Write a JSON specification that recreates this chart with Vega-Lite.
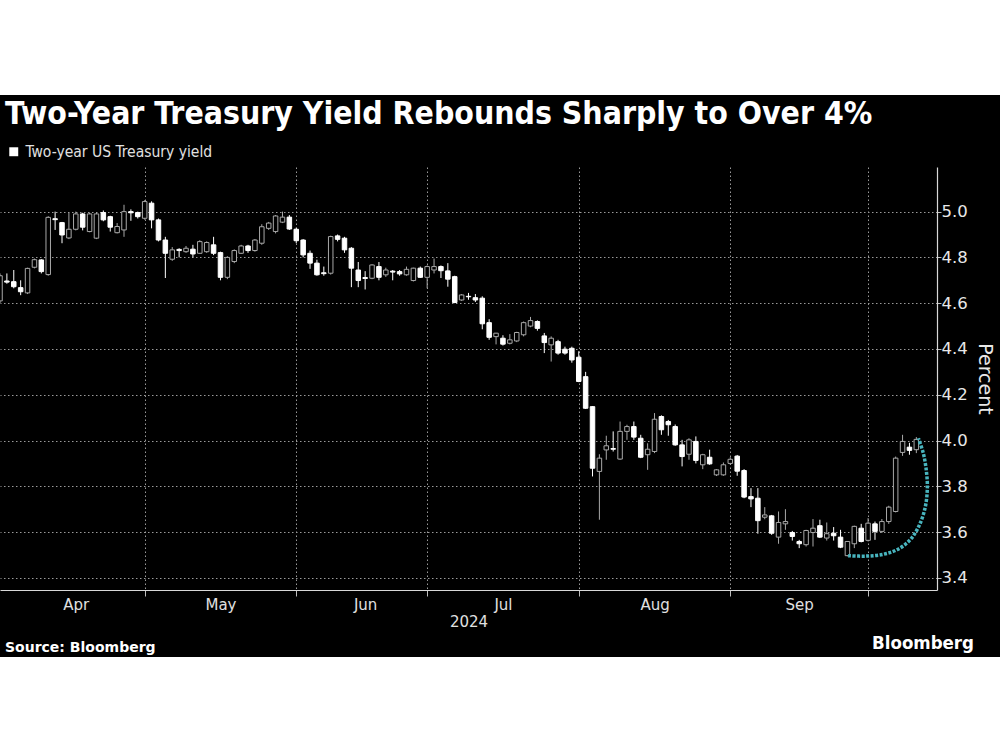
{
  "$schema": "https://vega.github.io/schema/vega-lite/v6.json",
  "background": "black",
  "padding": 0,
  "spacing": 4,
  "resolve": {"scale": {"fill": "independent", "stroke": "independent", "color": "independent"}, "legend": {"fill": "independent"}},
  "config": {
    "view": {"stroke": null},
    "font": "DejaVu Sans",
    "axis": {"labelFont": "DejaVu Sans", "titleFont": "DejaVu Sans"},
    "legend": {"labelFont": "DejaVu Sans Condensed, DejaVu Sans"}
  },
  "datasets": {
    "yields": [
      {"date": "2024-04-01", "open": 4.61, "high": 4.73, "low": 4.6, "close": 4.72},
      {"date": "2024-04-02", "open": 4.697, "high": 4.73, "low": 4.685, "close": 4.692},
      {"date": "2024-04-03", "open": 4.694, "high": 4.745, "low": 4.665, "close": 4.672},
      {"date": "2024-04-04", "open": 4.668, "high": 4.7, "low": 4.635, "close": 4.65},
      {"date": "2024-04-05", "open": 4.645, "high": 4.755, "low": 4.64, "close": 4.752},
      {"date": "2024-04-08", "open": 4.757, "high": 4.795, "low": 4.752, "close": 4.79},
      {"date": "2024-04-09", "open": 4.789, "high": 4.792, "low": 4.73, "close": 4.738},
      {"date": "2024-04-10", "open": 4.725, "high": 4.98, "low": 4.72, "close": 4.975},
      {"date": "2024-04-11", "open": 4.969, "high": 5.0, "low": 4.92, "close": 4.965},
      {"date": "2024-04-12", "open": 4.952, "high": 4.955, "low": 4.862, "close": 4.898},
      {"date": "2024-04-15", "open": 4.885, "high": 4.995, "low": 4.88, "close": 4.923},
      {"date": "2024-04-16", "open": 4.923, "high": 5.0, "low": 4.918, "close": 4.99},
      {"date": "2024-04-17", "open": 4.99, "high": 4.995, "low": 4.918, "close": 4.932},
      {"date": "2024-04-18", "open": 4.913, "high": 4.995, "low": 4.91, "close": 4.99},
      {"date": "2024-04-19", "open": 4.884, "high": 4.995, "low": 4.88, "close": 4.99},
      {"date": "2024-04-22", "open": 4.996, "high": 5.005, "low": 4.958, "close": 4.964},
      {"date": "2024-04-23", "open": 4.978, "high": 4.982, "low": 4.913, "close": 4.932},
      {"date": "2024-04-24", "open": 4.908, "high": 4.95, "low": 4.905, "close": 4.935},
      {"date": "2024-04-25", "open": 4.92, "high": 5.03, "low": 4.89, "close": 5.0},
      {"date": "2024-04-26", "open": 5.0, "high": 5.01, "low": 4.96, "close": 4.995},
      {"date": "2024-04-29", "open": 4.996, "high": 5.0, "low": 4.97, "close": 4.978},
      {"date": "2024-04-30", "open": 4.971, "high": 5.05, "low": 4.965, "close": 5.044},
      {"date": "2024-05-01", "open": 5.037, "high": 5.045, "low": 4.927, "close": 4.964},
      {"date": "2024-05-02", "open": 4.964, "high": 4.97, "low": 4.87, "close": 4.876},
      {"date": "2024-05-03", "open": 4.876, "high": 4.89, "low": 4.71, "close": 4.818},
      {"date": "2024-05-06", "open": 4.792, "high": 4.845, "low": 4.785, "close": 4.833},
      {"date": "2024-05-07", "open": 4.835, "high": 4.84, "low": 4.8, "close": 4.83},
      {"date": "2024-05-08", "open": 4.825, "high": 4.85, "low": 4.82, "close": 4.84},
      {"date": "2024-05-09", "open": 4.836, "high": 4.855, "low": 4.8, "close": 4.815},
      {"date": "2024-05-10", "open": 4.818, "high": 4.875, "low": 4.815, "close": 4.869},
      {"date": "2024-05-13", "open": 4.825, "high": 4.87, "low": 4.82, "close": 4.865},
      {"date": "2024-05-14", "open": 4.855, "high": 4.89, "low": 4.81, "close": 4.818},
      {"date": "2024-05-15", "open": 4.821, "high": 4.825, "low": 4.7, "close": 4.713},
      {"date": "2024-05-16", "open": 4.713, "high": 4.805, "low": 4.705, "close": 4.8},
      {"date": "2024-05-17", "open": 4.782, "high": 4.835, "low": 4.775, "close": 4.83},
      {"date": "2024-05-20", "open": 4.818, "high": 4.855, "low": 4.815, "close": 4.85},
      {"date": "2024-05-21", "open": 4.85, "high": 4.855, "low": 4.82, "close": 4.83},
      {"date": "2024-05-22", "open": 4.83, "high": 4.88, "low": 4.825, "close": 4.876},
      {"date": "2024-05-23", "open": 4.862, "high": 4.945, "low": 4.855, "close": 4.934},
      {"date": "2024-05-24", "open": 4.927, "high": 4.955, "low": 4.92, "close": 4.95},
      {"date": "2024-05-28", "open": 4.913, "high": 4.985, "low": 4.905, "close": 4.981},
      {"date": "2024-05-29", "open": 4.954, "high": 5.0, "low": 4.95, "close": 4.976},
      {"date": "2024-05-30", "open": 4.976, "high": 4.985, "low": 4.92, "close": 4.924},
      {"date": "2024-05-31", "open": 4.923, "high": 4.93, "low": 4.862, "close": 4.873},
      {"date": "2024-06-03", "open": 4.876, "high": 4.88, "low": 4.8, "close": 4.811},
      {"date": "2024-06-04", "open": 4.818, "high": 4.83, "low": 4.75, "close": 4.775},
      {"date": "2024-06-05", "open": 4.775, "high": 4.79, "low": 4.72, "close": 4.724},
      {"date": "2024-06-06", "open": 4.733, "high": 4.76, "low": 4.72, "close": 4.729},
      {"date": "2024-06-07", "open": 4.731, "high": 4.895, "low": 4.725, "close": 4.891},
      {"date": "2024-06-10", "open": 4.894, "high": 4.9, "low": 4.87, "close": 4.879},
      {"date": "2024-06-11", "open": 4.884, "high": 4.89, "low": 4.82, "close": 4.833},
      {"date": "2024-06-12", "open": 4.84, "high": 4.845, "low": 4.67, "close": 4.753},
      {"date": "2024-06-13", "open": 4.745, "high": 4.78, "low": 4.67, "close": 4.699},
      {"date": "2024-06-14", "open": 4.712, "high": 4.74, "low": 4.66, "close": 4.708},
      {"date": "2024-06-17", "open": 4.709, "high": 4.77, "low": 4.705, "close": 4.767},
      {"date": "2024-06-18", "open": 4.76, "high": 4.78, "low": 4.7, "close": 4.713},
      {"date": "2024-06-20", "open": 4.724, "high": 4.755, "low": 4.715, "close": 4.745},
      {"date": "2024-06-21", "open": 4.74, "high": 4.745, "low": 4.7, "close": 4.736},
      {"date": "2024-06-24", "open": 4.738, "high": 4.745, "low": 4.72, "close": 4.728},
      {"date": "2024-06-25", "open": 4.724, "high": 4.76, "low": 4.72, "close": 4.748},
      {"date": "2024-06-26", "open": 4.699, "high": 4.755, "low": 4.695, "close": 4.753},
      {"date": "2024-06-27", "open": 4.753, "high": 4.76, "low": 4.71, "close": 4.713},
      {"date": "2024-06-28", "open": 4.713, "high": 4.765, "low": 4.665, "close": 4.76},
      {"date": "2024-07-01", "open": 4.745, "high": 4.795, "low": 4.73, "close": 4.76},
      {"date": "2024-07-02", "open": 4.76, "high": 4.765, "low": 4.71, "close": 4.742},
      {"date": "2024-07-03", "open": 4.741, "high": 4.775, "low": 4.672, "close": 4.705},
      {"date": "2024-07-05", "open": 4.716, "high": 4.72, "low": 4.6, "close": 4.603},
      {"date": "2024-07-08", "open": 4.614, "high": 4.64, "low": 4.61, "close": 4.636},
      {"date": "2024-07-09", "open": 4.63, "high": 4.645, "low": 4.615, "close": 4.628},
      {"date": "2024-07-10", "open": 4.624, "high": 4.64, "low": 4.605, "close": 4.614},
      {"date": "2024-07-11", "open": 4.622, "high": 4.63, "low": 4.486, "close": 4.51},
      {"date": "2024-07-12", "open": 4.515, "high": 4.53, "low": 4.44, "close": 4.451},
      {"date": "2024-07-15", "open": 4.454, "high": 4.47, "low": 4.42, "close": 4.469},
      {"date": "2024-07-16", "open": 4.447, "high": 4.46, "low": 4.415, "close": 4.421},
      {"date": "2024-07-17", "open": 4.425, "high": 4.465, "low": 4.42, "close": 4.44},
      {"date": "2024-07-18", "open": 4.435, "high": 4.475, "low": 4.43, "close": 4.472},
      {"date": "2024-07-19", "open": 4.462, "high": 4.52, "low": 4.455, "close": 4.515},
      {"date": "2024-07-22", "open": 4.5, "high": 4.54, "low": 4.495, "close": 4.524},
      {"date": "2024-07-23", "open": 4.52, "high": 4.525, "low": 4.48, "close": 4.49},
      {"date": "2024-07-24", "open": 4.457, "high": 4.47, "low": 4.382, "close": 4.428},
      {"date": "2024-07-25", "open": 4.418, "high": 4.455, "low": 4.345, "close": 4.447},
      {"date": "2024-07-26", "open": 4.432, "high": 4.44, "low": 4.375, "close": 4.382},
      {"date": "2024-07-29", "open": 4.399, "high": 4.41, "low": 4.375, "close": 4.382},
      {"date": "2024-07-30", "open": 4.403, "high": 4.41, "low": 4.34, "close": 4.352},
      {"date": "2024-07-31", "open": 4.364, "high": 4.39, "low": 4.255, "close": 4.258},
      {"date": "2024-08-01", "open": 4.279, "high": 4.3, "low": 4.138, "close": 4.141},
      {"date": "2024-08-02", "open": 4.148, "high": 4.15, "low": 3.843, "close": 3.879},
      {"date": "2024-08-05", "open": 3.865, "high": 3.94, "low": 3.654, "close": 3.923},
      {"date": "2024-08-06", "open": 3.959, "high": 4.021, "low": 3.916, "close": 3.977},
      {"date": "2024-08-07", "open": 3.965, "high": 4.04, "low": 3.952, "close": 3.962},
      {"date": "2024-08-08", "open": 3.919, "high": 4.083, "low": 3.916, "close": 4.04},
      {"date": "2024-08-09", "open": 4.04, "high": 4.069, "low": 4.003, "close": 4.061},
      {"date": "2024-08-12", "open": 4.061, "high": 4.083, "low": 4.003, "close": 4.015},
      {"date": "2024-08-13", "open": 4.01, "high": 4.025, "low": 3.923, "close": 3.927},
      {"date": "2024-08-14", "open": 3.938, "high": 3.988, "low": 3.872, "close": 3.962},
      {"date": "2024-08-15", "open": 3.952, "high": 4.12, "low": 3.945, "close": 4.093},
      {"date": "2024-08-16", "open": 4.105, "high": 4.11, "low": 4.025, "close": 4.047},
      {"date": "2024-08-19", "open": 4.083, "high": 4.09, "low": 4.021, "close": 4.069},
      {"date": "2024-08-20", "open": 4.061, "high": 4.07, "low": 3.977, "close": 3.981},
      {"date": "2024-08-21", "open": 3.981, "high": 4.003, "low": 3.887, "close": 3.93},
      {"date": "2024-08-22", "open": 3.94, "high": 4.01, "low": 3.916, "close": 4.003},
      {"date": "2024-08-23", "open": 3.996, "high": 4.018, "low": 3.9, "close": 3.913},
      {"date": "2024-08-26", "open": 3.894, "high": 3.942, "low": 3.875, "close": 3.938},
      {"date": "2024-08-27", "open": 3.927, "high": 3.96, "low": 3.894, "close": 3.898},
      {"date": "2024-08-28", "open": 3.85, "high": 3.875, "low": 3.845, "close": 3.872},
      {"date": "2024-08-29", "open": 3.85, "high": 3.904, "low": 3.846, "close": 3.894},
      {"date": "2024-08-30", "open": 3.9, "high": 3.927, "low": 3.894, "close": 3.918},
      {"date": "2024-09-03", "open": 3.932, "high": 3.937, "low": 3.846, "close": 3.866},
      {"date": "2024-09-04", "open": 3.869, "high": 3.875, "low": 3.748, "close": 3.753},
      {"date": "2024-09-05", "open": 3.755, "high": 3.792, "low": 3.709, "close": 3.745},
      {"date": "2024-09-06", "open": 3.748, "high": 3.792, "low": 3.593, "close": 3.65},
      {"date": "2024-09-09", "open": 3.665, "high": 3.709, "low": 3.656, "close": 3.675},
      {"date": "2024-09-10", "open": 3.671, "high": 3.675, "low": 3.588, "close": 3.595},
      {"date": "2024-09-11", "open": 3.578, "high": 3.69, "low": 3.549, "close": 3.642},
      {"date": "2024-09-12", "open": 3.636, "high": 3.7, "low": 3.61, "close": 3.646},
      {"date": "2024-09-13", "open": 3.598, "high": 3.605, "low": 3.563, "close": 3.581},
      {"date": "2024-09-16", "open": 3.559, "high": 3.566, "low": 3.53, "close": 3.549},
      {"date": "2024-09-17", "open": 3.545, "high": 3.61, "low": 3.537, "close": 3.607},
      {"date": "2024-09-18", "open": 3.598, "high": 3.657, "low": 3.537, "close": 3.617},
      {"date": "2024-09-19", "open": 3.628, "high": 3.654, "low": 3.574, "close": 3.578},
      {"date": "2024-09-20", "open": 3.574, "high": 3.642, "low": 3.563, "close": 3.593},
      {"date": "2024-09-23", "open": 3.595, "high": 3.622, "low": 3.563, "close": 3.584},
      {"date": "2024-09-24", "open": 3.578, "high": 3.61, "low": 3.53, "close": 3.534},
      {"date": "2024-09-25", "open": 3.497, "high": 3.56, "low": 3.494, "close": 3.559},
      {"date": "2024-09-26", "open": 3.549, "high": 3.628, "low": 3.53, "close": 3.625},
      {"date": "2024-09-27", "open": 3.617, "high": 3.636, "low": 3.555, "close": 3.559},
      {"date": "2024-09-30", "open": 3.564, "high": 3.661, "low": 3.559, "close": 3.639},
      {"date": "2024-10-01", "open": 3.636, "high": 3.646, "low": 3.566, "close": 3.603},
      {"date": "2024-10-02", "open": 3.603, "high": 3.657, "low": 3.596, "close": 3.646},
      {"date": "2024-10-03", "open": 3.646, "high": 3.715, "low": 3.636, "close": 3.709},
      {"date": "2024-10-04", "open": 3.69, "high": 3.93, "low": 3.686, "close": 3.923},
      {"date": "2024-10-07", "open": 3.948, "high": 4.025, "low": 3.933, "close": 3.996},
      {"date": "2024-10-08", "open": 3.971, "high": 3.99, "low": 3.938, "close": 3.957},
      {"date": "2024-10-09", "open": 3.96, "high": 4.015, "low": 3.945, "close": 4.005}
    ],
    "arrow": [
      {"k": 1, "t": 123.1, "v": 3.497},
      {"k": 2, "t": 125.7, "v": 3.495},
      {"k": 3, "t": 128.2, "v": 3.503},
      {"k": 4, "t": 130.2, "v": 3.523},
      {"k": 5, "t": 132.1, "v": 3.566},
      {"k": 6, "t": 133.4, "v": 3.628},
      {"k": 7, "t": 134.3, "v": 3.71},
      {"k": 8, "t": 134.6, "v": 3.798},
      {"k": 9, "t": 134.4, "v": 3.881},
      {"k": 10, "t": 134.0, "v": 3.946},
      {"k": 11, "t": 133.3, "v": 4.01}
    ]
  },
  "vconcat": [
    {
      "width": 1000,
      "height": 95,
      "view": {"fill": "white", "stroke": null},
      "data": {"values": [{}]},
      "mark": {"type": "text", "text": ""}
    },
    {
      "width": 937,
      "height": 423,
      "title": {
        "text": "Two-Year Treasury Yield Rebounds Sharply to Over 4%",
        "anchor": "start",
        "color": "white",
        "fontSize": 31.7,
        "fontWeight": "bold",
        "font": "DejaVu Sans Condensed, DejaVu Sans",
        "offset": 7,
        "dx": 5
      },
      "layer": [
        {
          "data": {"name": "yields"},
          "layer": [
            {
              "mark": {"type": "rule", "strokeWidth": 1, "clip": true},
              "encoding": {
                "x": {
                  "field": "date",
                  "type": "ordinal",
                  "scale": {
                    "type": "point",
                    "padding": 0,
                    "domain": ["2024-04-01","2024-04-02","2024-04-03","2024-04-04","2024-04-05","2024-04-08","2024-04-09","2024-04-10","2024-04-11","2024-04-12","2024-04-15","2024-04-16","2024-04-17","2024-04-18","2024-04-19","2024-04-22","2024-04-23","2024-04-24","2024-04-25","2024-04-26","2024-04-29","2024-04-30","2024-05-01","2024-05-02","2024-05-03","2024-05-06","2024-05-07","2024-05-08","2024-05-09","2024-05-10","2024-05-13","2024-05-14","2024-05-15","2024-05-16","2024-05-17","2024-05-20","2024-05-21","2024-05-22","2024-05-23","2024-05-24","2024-05-28","2024-05-29","2024-05-30","2024-05-31","2024-06-03","2024-06-04","2024-06-05","2024-06-06","2024-06-07","2024-06-10","2024-06-11","2024-06-12","2024-06-13","2024-06-14","2024-06-17","2024-06-18","2024-06-20","2024-06-21","2024-06-24","2024-06-25","2024-06-26","2024-06-27","2024-06-28","2024-07-01","2024-07-02","2024-07-03","2024-07-05","2024-07-08","2024-07-09","2024-07-10","2024-07-11","2024-07-12","2024-07-15","2024-07-16","2024-07-17","2024-07-18","2024-07-19","2024-07-22","2024-07-23","2024-07-24","2024-07-25","2024-07-26","2024-07-29","2024-07-30","2024-07-31","2024-08-01","2024-08-02","2024-08-05","2024-08-06","2024-08-07","2024-08-08","2024-08-09","2024-08-12","2024-08-13","2024-08-14","2024-08-15","2024-08-16","2024-08-19","2024-08-20","2024-08-21","2024-08-22","2024-08-23","2024-08-26","2024-08-27","2024-08-28","2024-08-29","2024-08-30","2024-09-03","2024-09-04","2024-09-05","2024-09-06","2024-09-09","2024-09-10","2024-09-11","2024-09-12","2024-09-13","2024-09-16","2024-09-17","2024-09-18","2024-09-19","2024-09-20","2024-09-23","2024-09-24","2024-09-25","2024-09-26","2024-09-27","2024-09-30","2024-10-01","2024-10-02","2024-10-03","2024-10-04","2024-10-07","2024-10-08","2024-10-09","2024-10-10","2024-10-11","2024-10-15"]
                  },
                  "axis": {
                    "values": ["2024-04-16","2024-04-30","2024-05-15","2024-05-31","2024-06-14","2024-06-28","2024-07-16","2024-07-31","2024-08-15","2024-08-30","2024-09-16","2024-09-30"],
                    "labelExpr": "datum.value == '2024-04-16' ? 'Apr' : datum.value == '2024-05-15' ? 'May' : datum.value == '2024-06-14' ? 'Jun' : datum.value == '2024-07-16' ? 'Jul' : datum.value == '2024-08-15' ? 'Aug' : datum.value == '2024-09-16' ? 'Sep' : ''",
                    "labelAngle": 0,
                    "labelOverlap": false,
                    "labelColor": "#e0e0e0",
                    "labelFontSize": 15,
                    "labelPadding": 1,
                    "title": "2024",
                    "titleColor": "#e0e0e0",
                    "titleFontSize": 15,
                    "titleFontWeight": "normal",
                    "titlePadding": 2,
                    "domainColor": "#d8d8d8",
                    "domainWidth": 1.2,
                    "grid": true,
                    "gridColor": "#9a9a9a",
                    "gridDash": [1.5, 2.5],
                    "gridWidth": 1,
                    "gridOpacity": {"condition": {"test": "indexof(['2024-04-30','2024-05-31','2024-06-28','2024-07-31','2024-08-30','2024-09-30'], datum.value) >= 0", "value": 1}, "value": 0},
                    "tickOpacity": {"condition": {"test": "indexof(['2024-04-30','2024-05-31','2024-06-28','2024-07-31','2024-08-30','2024-09-30'], datum.value) >= 0", "value": 1}, "value": 0},
                    "tickColor": "#bdbdbd",
                    "tickSize": 6
                  }
                },
                "y": {
                  "field": "low",
                  "type": "quantitative",
                  "scale": {"domain": [3.347, 5.195], "nice": false, "zero": false},
                  "axis": {
                    "orient": "right",
                    "values": [3.4, 3.5, 3.6, 3.7, 3.8, 3.9, 4.0, 4.1, 4.2, 4.3, 4.4, 4.5, 4.6, 4.7, 4.8, 4.9, 5.0, 5.1],
                    "labelExpr": "round(datum.value * 10) % 2 == 0 ? format(datum.value, '.1f') : ''",
                    "labelColor": "#e8e8e8",
                    "labelFontSize": 16.5,
                    "labelPadding": 0,
                    "labelOverlap": false,
                    "title": "Percent",
                    "titleColor": "#e8e8e8",
                    "titleFontSize": 19,
                    "titleFontWeight": "normal",
                    "titlePadding": 7,
                    "domainColor": "#d8d8d8",
                    "domainWidth": 1.2,
                    "tickColor": "#bdbdbd",
                    "tickSize": {"condition": {"test": "round(datum.value * 10) % 2 == 0", "value": 4}, "value": 3},
                    "grid": true,
                    "gridColor": "#9a9a9a",
                    "gridDash": [1.5, 2.5],
                    "gridWidth": 1,
                    "gridOpacity": {"condition": {"test": "round(datum.value * 10) % 2 == 0", "value": 1}, "value": 0}
                  }
                },
                "y2": {"field": "high"},
                "color": {"condition": {"test": "datum.close > datum.open", "value": "#a8a8a8"}, "value": "white"}
              }
            },
            {
              "mark": {"type": "bar", "width": 4.5, "strokeWidth": 1, "clip": true},
              "encoding": {
                "x": {"field": "date", "type": "ordinal"},
                "y": {"field": "open", "type": "quantitative"},
                "y2": {"field": "close"},
                "fill": {
                  "datum": "Two-year US Treasury yield",
                  "scale": {"range": ["white"]},
                  "condition": {"test": "datum.close > datum.open", "value": "black"},
                  "legend": {
                    "orient": "top",
                    "title": null,
                    "symbolType": "square",
                    "symbolSize": 80,
                    "symbolStrokeWidth": 0,
                    "labelFontSize": 15.5,
                    "labelColor": "#e0e0e0",
                    "labelOffset": 4,
                    "labelLimit": 500,
                    "padding": 6,
                    "offset": 0
                  }
                },
                "stroke": {"condition": {"test": "datum.close > datum.open", "value": "#a8a8a8"}, "value": "white"}
              }
            }
          ]
        },
        {
          "data": {"name": "arrow"},
          "mark": {"type": "line", "interpolate": "catmull-rom", "strokeDash": [3, 1.5], "strokeWidth": 3.5, "color": "#48b4be"},
          "encoding": {
            "x": {"field": "t", "type": "quantitative", "scale": {"domain": [0, 136], "nice": false, "zero": false}, "axis": null},
            "y": {"field": "v", "type": "quantitative"},
            "order": {"field": "k", "type": "quantitative"}
          }
        }
      ],
      "resolve": {"scale": {"x": "independent"}}
    },
    {
      "hconcat": [
        {
          "width": 500,
          "height": 93,
          "view": {"fill": "white", "stroke": null},
          "title": {"text": "Source: Bloomberg", "anchor": "start", "color": "white", "fontSize": 14, "fontWeight": "bold", "font": "DejaVu Sans", "offset": 2, "dx": 5},
          "data": {"values": [{}]},
          "mark": {"type": "text", "text": ""}
        },
        {
          "width": 500,
          "height": 93,
          "view": {"fill": "white", "stroke": null},
          "title": {"text": "Bloomberg", "anchor": "end", "color": "white", "fontSize": 18.5, "fontWeight": "bold", "font": "DejaVu Sans Condensed, DejaVu Sans", "offset": 5, "dx": -26},
          "data": {"values": [{}]},
          "mark": {"type": "text", "text": ""}
        }
      ],
      "spacing": 0,
      "bounds": "flush"
    }
  ]
}
